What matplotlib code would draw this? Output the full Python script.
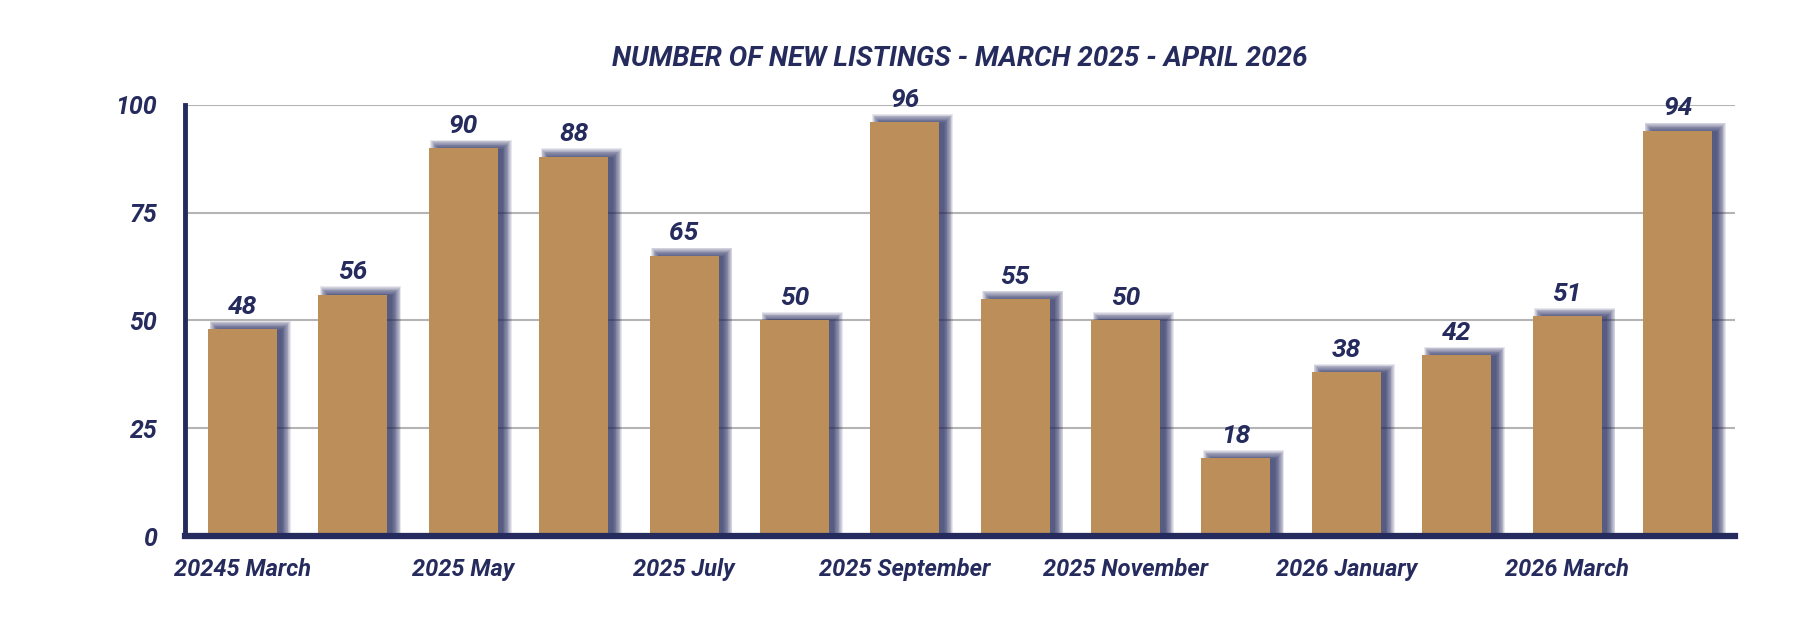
import matplotlib
matplotlib.use("Agg")
import matplotlib.pyplot as plt
import numpy as np

# values
months = ["2025 March", "2025 April", "2025 May", "2025 June", "2025 July",
          "2025 August", "2025 September", "2025 October", "2025 November",
          "2025 December", "2026 January", "2026 February", "2026 March",
          "2026 April"]
listings = [48, 56, 90, 88, 65, 50, 96, 55, 50, 18, 38, 42, 51, 94]
tick_labels = ["20245 March", "", "2025 May", "", "2025 July", "",
               "2025 September", "", "2025 November", "", "2026 January", "",
               "2026 March", ""]
y_ticks = [0, 25, 50, 75, 100]

NAVY = "#262b5e"
GOLD = "#bc8f5a"
FONT = ["Roboto", "DejaVu Sans"]

fig = plt.figure(figsize=(18.18, 6.4), dpi=100)
ax = fig.add_axes([0.1018, 0.1625, 0.8525, 0.6735])

x = np.arange(len(listings))
vals = np.array(listings, dtype=float)
bar_w = 0.625

# blurred navy drop shadow, built from faint stacked bars of growing size
for s in np.linspace(-0.05, 0.11, 12):
    ax.bar(x + 0.07, vals + 0.5 + s * 12.9, width=bar_w + s,
           color=NAVY, alpha=0.11, linewidth=0, zorder=2)

ax.bar(x, vals, width=bar_w, color=GOLD, linewidth=0, zorder=3)

for xi, v in zip(x, listings):
    ax.text(xi, v + 2.4, str(v), ha="center", va="bottom", color=NAVY,
            fontsize=19, fontweight="bold", fontstyle="italic", family=FONT,
            zorder=4)

ax.set_xlim(-0.52, len(listings) - 0.48)
ax.set_ylim(0, 100)
ax.set_yticks(y_ticks)
ax.set_yticklabels([str(t) for t in y_ticks])
ax.set_xticks(x)
ax.set_xticklabels(tick_labels)
ax.tick_params(axis="both", length=0, colors=NAVY)
ax.tick_params(axis="x", pad=16)
ax.tick_params(axis="y", pad=20)
for lab in ax.get_xticklabels() + ax.get_yticklabels():
    lab.set_family(FONT)
    lab.set_fontsize(17)
    lab.set_fontweight("bold")
    lab.set_fontstyle("italic")
for lab in ax.get_yticklabels():
    lab.set_fontsize(18)

ax.yaxis.grid(True, color="#b4b4b4", linewidth=1.5, zorder=0)
ax.set_axisbelow(True)

for side in ["top", "right"]:
    ax.spines[side].set_visible(False)
ax.spines["left"].set_color(NAVY)
ax.spines["left"].set_linewidth(3.5)
ax.spines["bottom"].set_color(NAVY)
ax.spines["bottom"].set_linewidth(4.5)
ax.spines["bottom"].set_zorder(5)

ax.set_title("NUMBER OF NEW LISTINGS - MARCH 2025 - APRIL 2026", color=NAVY,
             fontsize=20, fontweight="bold", fontstyle="italic", family=FONT,
             pad=28)

fig.savefig("out.png", dpi=100)
